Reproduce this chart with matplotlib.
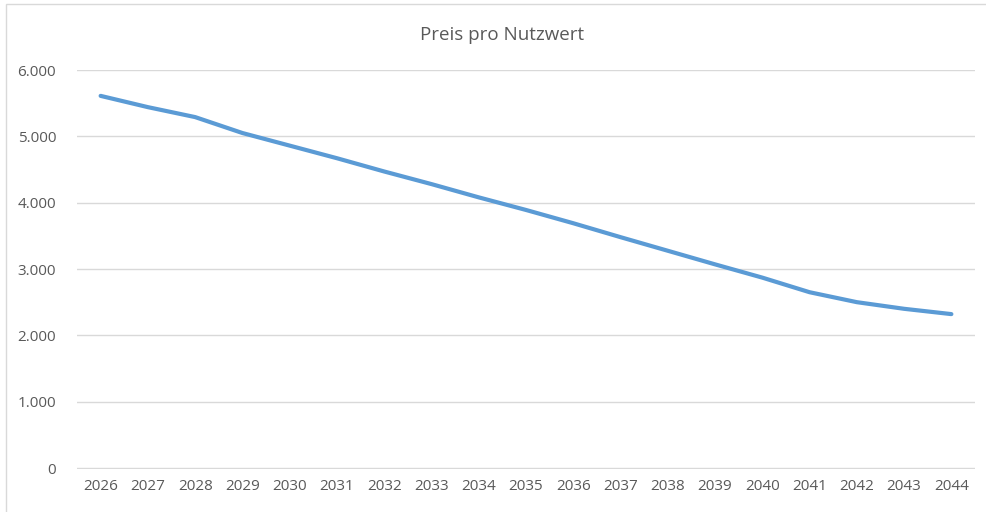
"""Preis pro Nutzwert line chart"""

import matplotlib.pyplot as plt
from matplotlib.patches import Rectangle
from matplotlib.ticker import FuncFormatter

years = [str(y) for y in range(2026, 2045)]
preis = [5610, 5440, 5290, 5050, 4860, 4670, 4470, 4280, 4080, 3890,
         3690, 3480, 3275, 3070, 2870, 2650, 2500, 2400, 2320]

plt.rcParams['font.family'] = ['Open Sans', 'DejaVu Sans']


def thousands(v, pos):
    return f"{int(round(v)):,}".replace(",", ".")


def plot_chart():
    fig = plt.figure(figsize=(9.87, 5.12), dpi=100)
    ax = fig.add_axes([77 / 987, 1 - 469 / 512, 898 / 987, 399 / 512])

    # chart area border (only left / top visible in the screenshot)
    fig.patches.append(Rectangle((6 / 987, -0.1), 1.2, (512 - 4) / 512 + 0.1,
                                 transform=fig.transFigure, fill=False,
                                 edgecolor='#d9d9d9', linewidth=1))

    x = list(range(len(years)))
    ax.plot(x, preis, color='#5b9bd5', linewidth=3, solid_capstyle='round',
            solid_joinstyle='round')

    ax.set_xlim(-0.5, len(years) - 0.5)
    ax.set_ylim(-15, 6000)
    ax.set_yticks(range(0, 6001, 1000))
    ax.yaxis.set_major_formatter(FuncFormatter(thousands))
    ax.set_xticks(x)
    ax.set_xticklabels(years)
    ax.grid(axis='y', color='#d9d9d9', linewidth=1)
    ax.set_axisbelow(True)
    for s in ax.spines.values():
        s.set_visible(False)
    ax.tick_params(length=0, labelsize=11, labelcolor='#595959')
    ax.tick_params(axis='y', pad=15)
    ax.tick_params(axis='x', pad=7)

    fig.text(502 / 987, 1 - 35 / 512, "Preis pro Nutzwert", ha='center',
             va='center', fontsize=13.5, color='#595959')

    fig.savefig('out.png', dpi=100)


if __name__ == "__main__":
    plot_chart()
